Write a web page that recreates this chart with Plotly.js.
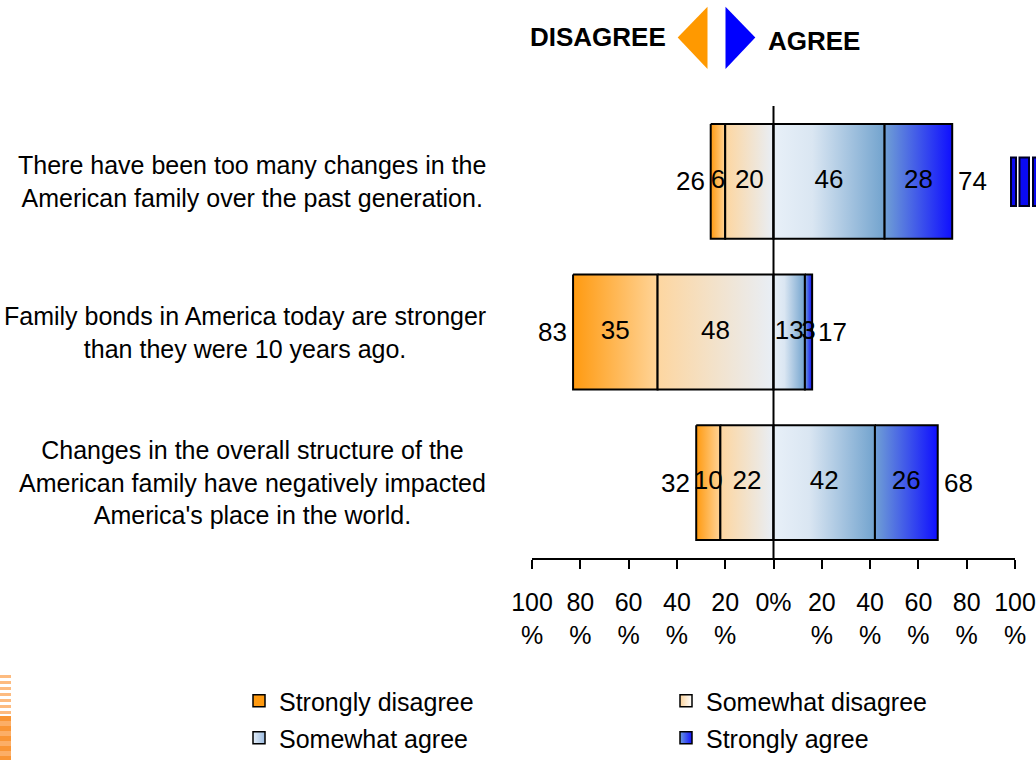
<!DOCTYPE html>
<html><head><meta charset="utf-8">
<script src="https://cdn.plot.ly/plotly-3.0.1.min.js"></script>
<style>html,body{margin:0;padding:0;background:#fff;}#chart{width:1036px;height:760px;}</style>
</head><body><div id="chart"></div>
<script>
// ---------------- data ----------------
const statements = [
  "There have been too many changes in the<br>American family over the past generation.",
  "Family bonds in America today are stronger<br>than they were 10 years ago.",
  "Changes in the overall structure of the<br>American family have negatively impacted<br>America's place in the world."
];
const seriesNames = ["Strongly disagree", "Somewhat disagree", "Somewhat agree", "Strongly agree"];
const stronglyDisagree = [6, 35, 10];
const somewhatDisagree = [20, 48, 22];
const somewhatAgree = [46, 13, 42];
const stronglyAgree = [28, 3, 26];
const totalDisagree = [26, 83, 32];
const totalAgree = [74, 17, 68];
const tickValues = [-100, -80, -60, -40, -20, 0, 20, 40, 60, 80, 100];
const tickLabels = ["100<br>%", "80<br>%", "60<br>%", "40<br>%", "20<br>%", "0%", "20<br>%", "40<br>%", "60<br>%", "80<br>%", "100<br>%"];

// ---------------- style ----------------
const FONT = "'Liberation Sans', Arial, sans-serif";
const M = {l: 532, r: 21, t: 106, b: 202};
const W = 1036, H = 760;
const PW = W - M.l - M.r, PH = H - M.t - M.b;
const px2x = p => (p - M.l) / PW;
const px2y = p => (H - M.b - p) / PH;
const HALF = 0.381;
const scales = [
  [[0, '#FF9A10'], [1, '#FFD498']],
  [[0, '#FDD6A0'], [1, '#E8EEF6']],
  [[0, '#E8F0F8'], [0.35, '#DAE6F2'], [1, '#72A3CE']],
  [[0, '#70A0D4'], [1, '#0F0FFF']]
];
const legendLeft = ['#FF9A10', '#FBD39C', '#E4EEF8', '#6A9AE0'];
const legendRight = ['#FF9A10', '#FFFFFF', '#9CBBE0', '#1212FF'];

// segment extents from data
const segs = [[], [], [], []];
const centers = [[], [], [], []];
for (let i = 0; i < statements.length; i++) {
  const a0 = -(stronglyDisagree[i] + somewhatDisagree[i]);
  const a1 = -somewhatDisagree[i];
  const b1 = somewhatAgree[i];
  const b2 = somewhatAgree[i] + stronglyAgree[i];
  const ext = [[a0, a1], [a1, 0], [0, b1], [b1, b2]];
  ext.forEach((e, s) => { segs[s].push(e); centers[s].push((e[0] + e[1]) / 2); });
}
const values = [stronglyDisagree, somewhatDisagree, somewhatAgree, stronglyAgree];

const traces = [];
for (let s = 0; s < 4; s++) {
  segs[s].forEach((e, i) => {
    traces.push({
      type: 'scatter', mode: 'lines',
      x: [e[0], e[1], e[1], e[0], e[0]],
      y: [i - HALF, i - HALF, i + HALF, i + HALF, i - HALF],
      fill: 'toself',
      fillgradient: {type: 'horizontal', colorscale: scales[s]},
      line: {color: '#000', width: 2},
      showlegend: false, hoverinfo: 'skip'
    });
  });
}
for (let s = 0; s < 4; s++) {
  traces.push({
    type: 'scatter', mode: 'text',
    x: centers[s], y: statements.map((_, i) => i),
    text: values[s].map(String),
    textposition: 'middle center',
    textfont: {family: FONT, size: 26, color: '#000'},
    cliponaxis: false, showlegend: false, hoverinfo: 'skip'
  });
}
// legend entries
for (let s = 0; s < 4; s++) {
  traces.push({
    type: 'scatter', mode: 'markers', x: [null], y: [null],
    name: seriesNames[s],
    legend: s < 2 ? 'legend' : 'legend2',
    marker: {symbol: 'square', size: 12, color: legendLeft[s],
             gradient: {type: 'horizontal', color: legendRight[s]},
             line: {color: '#000', width: 1.5}},
    hoverinfo: 'skip'
  });
}

const annotations = [];
statements.forEach((t, i) => {
  annotations.push({xref: 'paper', yref: 'y', x: px2x(488), y: i, xanchor: 'right', yanchor: 'middle',
    text: t, align: 'center', showarrow: false, font: {family: FONT, size: 25, color: '#000'}});
  annotations.push({xref: 'x', yref: 'y', x: -(stronglyDisagree[i] + somewhatDisagree[i]), y: i,
    xanchor: 'right', yanchor: 'middle', xshift: -4, text: String(totalDisagree[i]), showarrow: false,
    font: {family: FONT, size: 26, color: '#000'}});
  annotations.push({xref: 'x', yref: 'y', x: somewhatAgree[i] + stronglyAgree[i], y: i,
    xanchor: 'left', yanchor: 'middle', xshift: 4, text: String(totalAgree[i]), showarrow: false,
    font: {family: FONT, size: 26, color: '#000'}});
});
annotations.push({xref: 'paper', yref: 'paper', x: px2x(597.5), y: px2y(37), xanchor: 'center', yanchor: 'middle',
  text: '<b>DISAGREE</b>', showarrow: false, font: {family: FONT, size: 26, color: '#000'}});
annotations.push({xref: 'paper', yref: 'paper', x: px2x(813.5), y: px2y(41.5), xanchor: 'center', yanchor: 'middle',
  text: '<b>AGREE</b>', showarrow: false, font: {family: FONT, size: 26, color: '#000'}});

const shapes = [];
const P = (x, y) => px2x(x) + ',' + px2y(y);
shapes.push({type: 'path', xref: 'paper', yref: 'paper', path: 'M' + P(677.7, 37.5) + 'L' + P(707.5, 6.7) + 'L' + P(707.5, 69) + 'Z',
  fillcolor: '#FF9900', line: {width: 0}});
shapes.push({type: 'path', xref: 'paper', yref: 'paper', path: 'M' + P(725.5, 6.7) + 'L' + P(755.3, 37.5) + 'L' + P(725.5, 69) + 'Z',
  fillcolor: '#0000FF', line: {width: 0}});
shapes.push({type: 'line', xref: 'x', yref: 'paper', x0: 0, x1: 0, y0: 0, y1: 1, layer: 'above', line: {color: '#000', width: 2}});
// decorative edge stripes
[[1011, 1016], [1019.5, 1029], [1033, 1042]].forEach(r => {
  shapes.push({type: 'rect', xref: 'paper', yref: 'paper', x0: px2x(r[0]), x1: px2x(r[1]), y0: px2y(206), y1: px2y(157.5),
    fillcolor: '#0A0AF2', line: {color: '#000022', width: 2}});
});
for (let y = 675; y < 714; y += 6) {
  shapes.push({type: 'rect', xref: 'paper', yref: 'paper', x0: px2x(-2), x1: px2x(11), y0: px2y(y + 3), y1: px2y(y),
    fillcolor: '#FDBB80', line: {width: 0}});
}
for (let y = 716, k = 0; y < 762; y += 5, k++) {
  shapes.push({type: 'rect', xref: 'paper', yref: 'paper', x0: px2x(-2), x1: px2x(11), y0: px2y(y + 5), y1: px2y(y),
    fillcolor: k % 2 ? '#FCAE66' : '#F99535', line: {width: 0}});
}

const layout = {
  width: W, height: H,
  margin: {l: M.l, r: M.r, t: M.t, b: M.b, autoexpand: false},
  paper_bgcolor: '#fff', plot_bgcolor: '#fff',
  showlegend: true,
  xaxis: {range: [-100, 100], tickvals: tickValues, ticktext: tickLabels, showgrid: false, zeroline: false,
    showline: true, linecolor: '#000', linewidth: 2, ticks: 'outside', ticklen: 9, tickwidth: 2, tickcolor: '#000',
    ticklabelstandoff: 12, ticklabeloverflow: 'allow',
    tickfont: {family: FONT, size: 25, color: '#000'}, fixedrange: true},
  yaxis: {range: [2.5, -0.5], visible: false, fixedrange: true},
  legend: {orientation: 'h', x: px2x(239), xanchor: 'left', y: px2y(701), yanchor: 'middle', entrywidth: 382,
    font: {family: FONT, size: 25, color: '#000'}, bgcolor: 'rgba(0,0,0,0)'},
  legend2: {orientation: 'h', x: px2x(239), xanchor: 'left', y: px2y(738), yanchor: 'middle', entrywidth: 382,
    font: {family: FONT, size: 25, color: '#000'}, bgcolor: 'rgba(0,0,0,0)'},
  annotations: annotations,
  shapes: shapes,
  hovermode: false
};
Plotly.newPlot('chart', traces, layout, {displayModeBar: false, staticPlot: true});
</script>
</body></html>
